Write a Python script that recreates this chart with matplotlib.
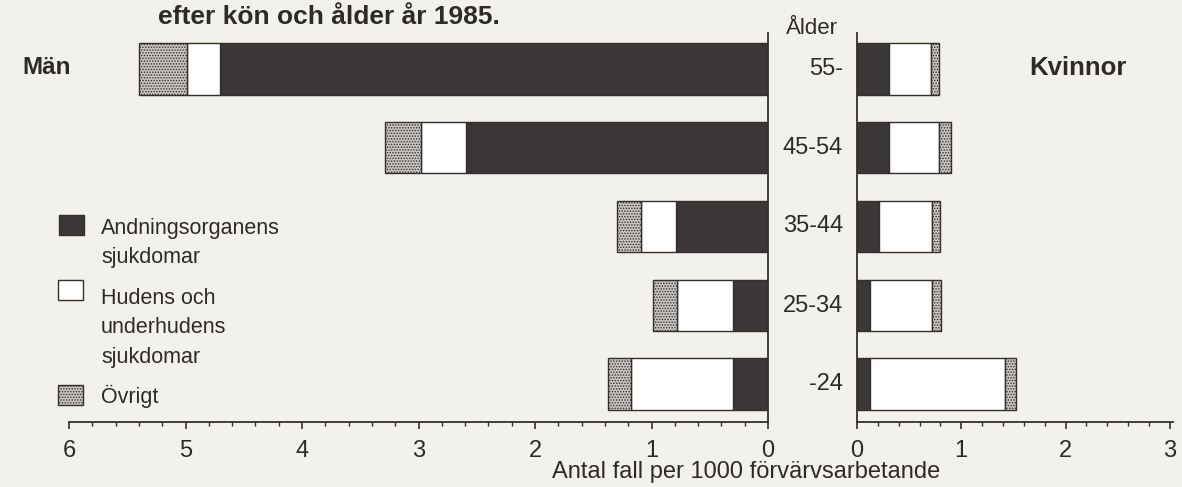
"""Arbetssjukdomar (kemiska) efter kön och ålder år 1985 - back-to-back bar chart."""

import numpy as np
import matplotlib
matplotlib.use('Agg')
import matplotlib.pyplot as plt
from matplotlib.patches import Rectangle

# ---- data (antal fall per 1000 förvärvsarbetande) ----
ages = ['-24', '25-34', '35-44', '45-54', '55-']
men_resp = [0.30, 0.30, 0.79, 2.59, 4.70]
men_skin = [0.88, 0.48, 0.30, 0.39, 0.29]
men_other = [0.19, 0.21, 0.21, 0.31, 0.41]
women_resp = [0.12, 0.12, 0.21, 0.31, 0.31]
women_skin = [1.30, 0.60, 0.51, 0.48, 0.40]
women_other = [0.105, 0.09, 0.08, 0.115, 0.08]

legend_labels = ['Andningsorganens\nsjukdomar',
                 'Hudens och\nunderhudens\nsjukdomar',
                 'Övrigt']

BG = '#f3f1eb'
C_DARK = '#3b3736'
C_EDGE = '#352f2f'
C_DOT = '#c9c5c0'
W, H = 1182, 487


def setup_style():
    plt.rcParams.update({
        'font.family': ['Liberation Sans', 'DejaVu Sans'],
        'font.size': 15,
        'text.color': '#2e2a2a',
        'xtick.color': C_EDGE,
        'xtick.labelcolor': '#2e2a2a',
        'hatch.linewidth': 0.7,
    })


def draw_bars(ax, resp, skin, other, y, h):
    resp = np.array(resp)
    skin = np.array(skin)
    other = np.array(other)
    ax.barh(y, resp, h, left=0, color=C_DARK, edgecolor=C_EDGE, linewidth=1)
    ax.barh(y, skin, h, left=resp, color='white', edgecolor=C_EDGE, linewidth=1)
    ax.barh(y, other, h, left=resp + skin, color=C_DOT, edgecolor=C_EDGE,
            linewidth=1, hatch='......')


def style_axis(ax, side):
    ax.set_facecolor('none')
    ax.spines['top'].set_visible(False)
    if side == 'left':
        ax.spines['left'].set_visible(False)
    else:
        ax.spines['right'].set_visible(False)
    for s in ax.spines.values():
        s.set_color(C_EDGE)
        s.set_linewidth(1.3)
    ax.set_yticks([])
    ax.set_xticks(np.arange(0, 7) if side == 'left' else np.arange(0, 4))
    ax.set_xticks(np.arange(0, 6.01 if side == 'left' else 3.01, 0.2), minor=True)
    ax.tick_params(axis='x', which='major', length=5, width=1.2, pad=8, labelsize=17)
    ax.tick_params(axis='x', which='minor', length=3, width=1)


def generate_figure():
    setup_style()
    fig = plt.figure(figsize=(W / 100, H / 100), dpi=100, facecolor=BG)

    y = np.arange(len(ages))
    h = 0.65
    bottom = 1 - 422 / H
    height = 389 / H
    ylim = (-0.483, 4.457)

    # Män (left, reversed scale)
    ax_m = fig.add_axes([69 / W, bottom, 699 / W, height])
    draw_bars(ax_m, men_resp, men_skin, men_other, y, h)
    ax_m.set_xlim(6, 0)
    ax_m.set_ylim(*ylim)
    style_axis(ax_m, 'left')

    # Kvinnor (right)
    ax_k = fig.add_axes([857 / W, bottom, 316 / W, height])
    draw_bars(ax_k, women_resp, women_skin, women_other, y, h)
    ax_k.set_xlim(0, 3.03)
    ax_k.set_ylim(*ylim)
    style_axis(ax_k, 'right')

    # overlay in pixel coordinates for texts and legend
    ov = fig.add_axes([0, 0, 1, 1])
    ov.set_xlim(0, W)
    ov.set_ylim(H, 0)
    ov.axis('off')
    ov.patch.set_alpha(0)

    # title (only its last line is visible in the scan)
    ov.text(329, 24, 'efter kön och ålder år 1985.', ha='center', va='baseline',
            fontsize=19, fontweight='bold')
    ov.text(22, 68, 'Män', ha='left', va='center', fontsize=17.5, fontweight='bold')
    ov.text(1078, 68, 'Kvinnor', ha='center', va='center', fontsize=18.5, fontweight='bold')
    ov.text(812, 29, 'Ålder', ha='center', va='center', fontsize=16)

    # age labels between the panels
    centers = [384, 305.5, 226, 148.5, 69]
    for lab, cy in zip(ages, centers):
        ov.text(843, cy, lab, ha='right', va='center', fontsize=17)

    ov.text(746, 472, 'Antal fall per 1000 förvärvsarbetande', ha='center',
            va='center', fontsize=17)

    # legend, drawn by hand so the square sits at the first text line
    sq = [(59, 215), (58, 280), (58, 385)]
    styles = [dict(facecolor=C_DARK, edgecolor=C_EDGE),
              dict(facecolor='white', edgecolor=C_EDGE),
              dict(facecolor=C_DOT, edgecolor=C_EDGE, hatch='......')]
    text_y = [218, 288, 385]
    for (sx, sy), st, lab, ty in zip(sq, styles, legend_labels, text_y):
        ov.add_patch(Rectangle((sx, sy), 25, 20, linewidth=1, **st))
        ov.text(101, ty, lab, ha='left', va='top', fontsize=15.5, linespacing=1.52)

    fig.savefig('out.png', dpi=100, facecolor=BG)
    plt.close(fig)


if __name__ == '__main__':
    generate_figure()
